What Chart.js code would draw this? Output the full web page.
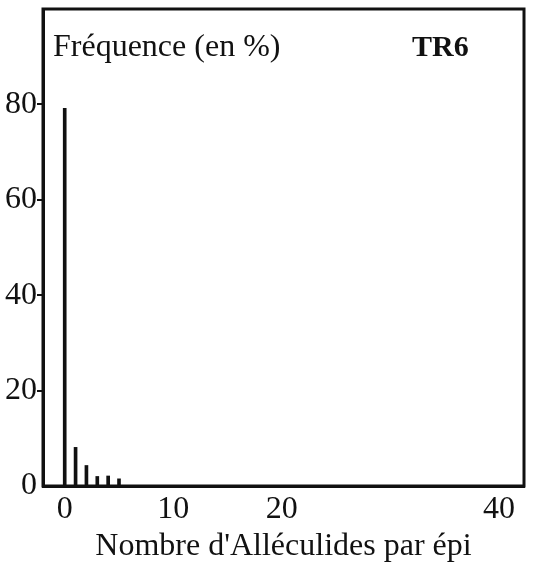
<!DOCTYPE html>
<html>
<head>
<meta charset="utf-8">
<script src="https://cdn.jsdelivr.net/npm/chart.js@4"></script>
<style>
  html, body { margin: 0; padding: 0; background: #fff; }
</style>
</head>
<body>
<canvas id="myChart" width="534" height="570"></canvas>
<script>
// number of alleculids per ear and their frequency (%)
const alleculides = [0, 1, 2, 3, 4, 5];
const frequences = [79.2, 8.1, 4.3, 2.0, 2.1, 1.5];

const xTicks = [0, 10, 20, 40];
const yTicks = [0, 20, 40, 60, 80];

const yTitle = "Fréquence (en %)";
const panelLabel = "TR6";
const xTitle = "Nombre d'Alléculides par épi";

const ink = "#111";
const serif = "'Liberation Serif', 'Times New Roman', serif";

// closed frame around the plot plus the two labels written inside it
const framePlugin = {
  id: "frame",
  afterDatasetsDraw(chart) {
    const { ctx, chartArea } = chart;
    ctx.save();
    ctx.strokeStyle = ink;
    ctx.lineWidth = 3;
    ctx.strokeRect(chartArea.left, chartArea.top,
      chartArea.right - chartArea.left, chartArea.bottom - chartArea.top);

    ctx.fillStyle = ink;
    ctx.textBaseline = "alphabetic";
    ctx.textAlign = "left";
    ctx.font = "32px " + serif;
    ctx.fillText(yTitle, chartArea.left + 10, chartArea.top + 47);
    ctx.font = "bold 30px " + serif;
    ctx.fillText(panelLabel, chartArea.left + 369, chartArea.top + 47);
    ctx.restore();
  },
};

function main() {
  const ctx = document.getElementById("myChart");
  new Chart(ctx, {
    type: "bar",
    data: {
      datasets: [
        {
          data: alleculides.map((x, i) => ({ x: x, y: frequences[i] })),
          backgroundColor: ink,
          borderWidth: 0,
          barThickness: 3,
        },
      ],
    },
    options: {
      responsive: false,
      animation: false,
      layout: {
        padding: { top: 9, right: 10, left: 0, bottom: 0 },
      },
      plugins: {
        legend: { display: false },
        tooltip: { enabled: false },
      },
      scales: {
        x: {
          type: "linear",
          offset: false,
          min: -2,
          max: 42.3,
          afterBuildTicks: (scale) => {
            scale.ticks = xTicks.map((v) => ({ value: v }));
          },
          afterFit: (scale) => {
            scale.height = 84;
          },
          grid: { display: false, drawTicks: false },
          border: { display: true, color: ink, width: 3 },
          ticks: {
            color: ink,
            padding: 4,
            maxRotation: 0,
            font: { family: serif, size: 32 },
          },
          title: {
            display: true,
            text: xTitle,
            color: ink,
            font: { family: serif, size: 32, lineHeight: 1.2 },
            padding: { top: 0, bottom: 4 },
          },
        },
        y: {
          min: 0,
          max: 100,
          afterBuildTicks: (scale) => {
            scale.ticks = yTicks.map((v) => ({ value: v }));
          },
          afterFit: (scale) => {
            // no label sits at the top, so no room is needed for one there
            scale.width = 43;
            scale.paddingTop = 0;
            scale.paddingBottom = 0;
          },
          grid: {
            drawOnChartArea: false,
            drawTicks: true,
            tickLength: 6,
            lineWidth: 2,
            color: (c) => (c.tick && c.tick.value === 0 ? "rgba(0,0,0,0)" : ink),
          },
          border: { display: true, color: ink, width: 3 },
          ticks: {
            color: ink,
            padding: 0,
            font: { family: serif, size: 32 },
          },
        },
      },
    },
    plugins: [framePlugin],
  });
}

main();
</script>
</body>
</html>
